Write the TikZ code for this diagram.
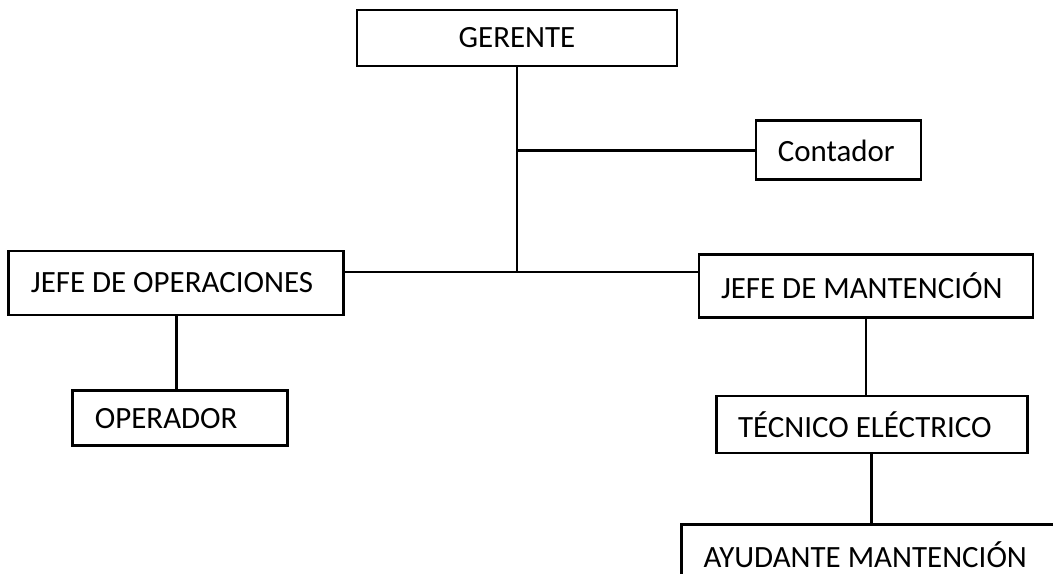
\documentclass[tikz,border=0pt]{standalone}
\usepackage{fontspec}
\setmainfont{Carlito}
\usetikzlibrary{positioning}
\tikzstyle{orgbox} = [rectangle, minimum height=14mm, text centered, draw=black, line width=2pt, font=\fontsize{22}{26}\selectfont]
\tikzstyle{orgboxl} = [orgbox, align=flush left, inner xsep=5.5mm]
\tikzstyle{orgline} = [draw=black, line width=2pt]

\begin{document}
\begin{tikzpicture}[node distance=1cm]
    \useasboundingbox (0,0) rectangle (263.25mm,-143.5mm);
    \node (ger)  [orgbox, minimum width=80mm] at (129.25mm,-9.5mm) {GERENTE};
    \node (cont) [orgboxl, text width=30.25mm, minimum height=14.75mm] at (209.6mm,-37.6mm) {Contador};
    \node (jop)  [orgboxl, text width=72.75mm, minimum height=16mm] at (44.1mm,-70.75mm) {JEFE DE OPERACIONES};
    \node (jm)   [orgboxl, text width=72.5mm, minimum height=15.75mm] at (216.5mm,-71.4mm) {JEFE DE MANTENCIÓN};
    \node (op)   [orgboxl, text width=42.75mm, minimum height=13.75mm, below=18.25mm of jop, xshift=1mm] {OPERADOR};
    \node (tec)  [orgboxl, text width=66.75mm, minimum height=14.25mm, below=19mm of jm, xshift=1.4mm] {TÉCNICO ELÉCTRICO};
    \node (ayud) [orgboxl, text width=84mm, minimum height=15mm, below=17.25mm of tec] {AYUDANTE MANTENCIÓN};
    \coordinate (trunk) at (129.25mm,-68mm);

    \draw [orgline] (ger) -- (trunk);
    \draw [orgline] (ger.south |- cont.west) -- (cont.west);
    \draw [orgline] (jop.east |- trunk) -- (jm.west |- trunk);
    \draw [orgline] (jop.south) -- (jop.south |- op.north);
    \draw [orgline] (jm.south) -- (jm.south |- tec.north);
    \draw [orgline] (tec.south) -- (tec.south |- ayud.north);
\end{tikzpicture}
\end{document}
